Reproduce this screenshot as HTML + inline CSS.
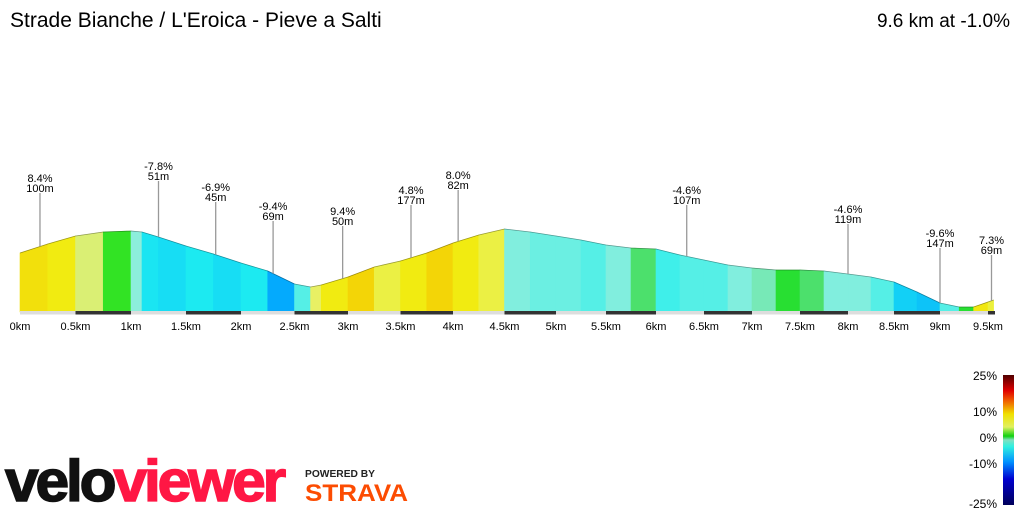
<!DOCTYPE html>
<html><head><meta charset="utf-8"><style>
html,body{margin:0;padding:0;background:#fff;width:1024px;height:512px;overflow:hidden;font-family:"Liberation Sans",sans-serif}
</style></head><body>
<svg id="chart" width="1024" height="512" viewBox="0 0 1024 512" xmlns="http://www.w3.org/2000/svg" font-family="Liberation Sans, DejaVu Sans, sans-serif">
<defs>
<linearGradient id="lg" x1="0" y1="1" x2="0" y2="0">
<stop offset="0" stop-color="#00005a"/><stop offset="0.2" stop-color="#0000d0"/><stop offset="0.33" stop-color="#0090ff"/><stop offset="0.45" stop-color="#30f0e0"/><stop offset="0.5" stop-color="#80e0c0"/><stop offset="0.53" stop-color="#10d010"/><stop offset="0.6" stop-color="#e0f060"/><stop offset="0.7" stop-color="#f0e000"/><stop offset="0.8" stop-color="#f06000"/><stop offset="0.88" stop-color="#e00000"/><stop offset="1" stop-color="#500000"/>
</linearGradient>
</defs>
<text x="10" y="27" font-size="21" fill="#000">Strade Bianche / L'Eroica - Pieve a Salti</text>
<text x="1010" y="27" font-size="19" fill="#000" text-anchor="end">9.6 km at -1.0%</text>
<g id="profile"></g>
<g id="marks"></g>
<g id="axis"></g>
<g>
<rect x="1003" y="375" width="11" height="130" fill="url(#lg)"/>
<text x="997" y="380" font-size="12" text-anchor="end">25%</text>
<text x="997" y="416" font-size="12" text-anchor="end">10%</text>
<text x="997" y="442" font-size="12" text-anchor="end">0%</text>
<text x="997" y="468" font-size="12" text-anchor="end">-10%</text>
<text x="997" y="508" font-size="12" text-anchor="end">-25%</text>
</g>
<g>
<text x="5" y="501" font-size="58" font-weight="bold" textLength="278" lengthAdjust="spacingAndGlyphs" letter-spacing="-3" stroke-width="1.5"><tspan fill="#111" stroke="#111">velo</tspan><tspan fill="#ff1744" stroke="#ff1744">viewer</tspan></text>
</g>
<text x="305" y="477" font-size="10" font-weight="bold" fill="#222" textLength="70" lengthAdjust="spacingAndGlyphs">POWERED BY</text>
<text x="305" y="501" font-size="24" font-weight="bold" fill="#fc4c02" textLength="103" lengthAdjust="spacingAndGlyphs">STRAVA</text>
</svg>
<script>
const kmPoints=[0,0.25,0.5,0.75,1.0,1.1,1.25,1.5,1.75,2.0,2.25,2.5,2.65,2.75,3.0,3.25,3.5,3.75,4.0,4.25,4.5,4.75,5.0,5.25,5.5,5.75,6.0,6.25,6.5,6.75,7.0,7.25,7.5,7.75,8.0,8.25,8.5,8.75,9.0,9.2,9.35,9.5,9.58];
const elevation=[218,236,252,260,262,260,250,232,216,198,182,156,150,154,170,190,202,218,238,254,266,260,252,244,234,228,226,214,204,194,188,184,184,182,176,170,160,140,118,110,110,120,124];
const tickKm=[0,0.5,1,1.5,2,2.5,3,3.5,4,4.5,5,5.5,6,6.5,7,7.5,8,8.5,9,9.5];
const tickLabels=["0km","0.5km","1km","1.5km","2km","2.5km","3km","3.5km","4km","4.5km","5km","5.5km","6km","6.5km","7km","7.5km","8km","8.5km","9km","9.5km"];
const annKm=[0.18,1.25,1.77,2.3,2.95,3.6,4.05,6.32,8.0,9.0,9.55];
const annGrade=["8.4%","-7.8%","-6.9%","-9.4%","9.4%","4.8%","8.0%","-4.6%","-4.6%","-9.6%","7.3%"];
const annLength=["100m","51m","45m","69m","50m","177m","82m","107m","119m","147m","69m"];
const annLevel=[179,167,188,207,212,191,176,191,210,234,241];

const NS="http://www.w3.org/2000/svg";
const xk=[0,1,2,3,4,5,6,7,8,9,9.5,9.6],xp=[20,131,241,348,453,556,656,752,848,940,988,995];
function X(km){for(let i=0;i<xk.length-1;i++){if(km<=xk[i+1]||i==xk.length-2){const t=(km-xk[i])/(xk[i+1]-xk[i]);return xp[i]+t*(xp[i+1]-xp[i]);}}}
const base=312,eMin=100,pxPerM=0.5;
function Y(e){return base-(e-eMin)*pxPerM;}
function lerp(a,b,t){return a+(b-a)*t}
const cStops=[[-25,[0,0,90]],[-15,[0,0,230]],[-11,[0,160,255]],[-6,[30,240,240]],[-2,[140,238,220]],[-0.5,[60,220,80]],[0.5,[20,225,20]],[2,[170,235,100]],[3.5,[230,240,120]],[6,[240,240,20]],[9,[245,200,0]],[15,[230,0,0]],[25,[80,0,0]]];
function gradeColor(g){if(g<=cStops[0][0])return `rgb(${cStops[0][1]})`;for(let i=0;i<cStops.length-1;i++){if(g<=cStops[i+1][0]){const t=(g-cStops[i][0])/(cStops[i+1][0]-cStops[i][0]);const a=cStops[i][1],b=cStops[i+1][1];return `rgb(${Math.round(lerp(a[0],b[0],t))},${Math.round(lerp(a[1],b[1],t))},${Math.round(lerp(a[2],b[2],t))})`;}}return `rgb(${cStops[cStops.length-1][1]})`;}
const prof=document.getElementById('profile');
for(let i=0;i<kmPoints.length-1;i++){
  const g=(elevation[i+1]-elevation[i])/((kmPoints[i+1]-kmPoints[i])*1000)*100;
  const x0=X(kmPoints[i]),x1=X(kmPoints[i+1]);
  const p=document.createElementNS(NS,'polygon');
  
  
  p.setAttribute('points',`${x0},${base} ${x0},${Y(elevation[i])} ${x1},${Y(elevation[i+1])} ${x1},${base}`);
  p.setAttribute('fill',gradeColor(g));
  p.setAttribute('stroke',gradeColor(g));
  p.setAttribute('stroke-width','0.6');
  prof.appendChild(p);
}
const outline=document.createElementNS(NS,'polyline');


outline.setAttribute('points',kmPoints.map((k,i)=>X(k)+','+Y(elevation[i])).join(' '));
outline.setAttribute('fill','none');outline.setAttribute('stroke','rgba(0,0,0,0.35)');outline.setAttribute('stroke-width','0.8');
prof.appendChild(outline);
function elevAt(km){for(let i=0;i<kmPoints.length-1;i++){if(km<=kmPoints[i+1]){const t=(km-kmPoints[i])/(kmPoints[i+1]-kmPoints[i]);return lerp(elevation[i],elevation[i+1],t);}}return elevation[elevation.length-1];}
const axis=document.getElementById('axis');
for(let i=0;i<19;i++){
  const a=i*0.5,b=Math.min(a+0.5,9.6);
  const r=document.createElementNS(NS,'rect');
  
  
  r.setAttribute('x',X(a));r.setAttribute('width',X(b)-X(a));r.setAttribute('y',311);r.setAttribute('height',3.5);
  r.setAttribute('fill',i%2?'#333':'#ddd');axis.appendChild(r);
}
const last=document.createElementNS(NS,'rect');


last.setAttribute('x',X(9.5));last.setAttribute('width',X(9.6)-X(9.5));last.setAttribute('y',311);last.setAttribute('height',3.5);last.setAttribute('fill','#333');axis.appendChild(last);
tickKm.forEach((k,i)=>{const t=document.createElementNS(NS,'text');
  
  
  t.setAttribute('x',X(k));t.setAttribute('y',330);t.setAttribute('font-size','11');t.setAttribute('text-anchor','middle');t.textContent=tickLabels[i];axis.appendChild(t);});
const marks=document.getElementById('marks');
annKm.forEach((k,i)=>{const x=X(k),ly=annLevel[i];
  const l=document.createElementNS(NS,'line');
  
  
  l.setAttribute('x1',x);l.setAttribute('x2',x);l.setAttribute('y1',ly+14);l.setAttribute('y2',Y(elevAt(k)));l.setAttribute('stroke','#999');l.setAttribute('stroke-width','1.3');marks.appendChild(l);
  const t1=document.createElementNS(NS,'text');
  
  
  t1.setAttribute('x',x);t1.setAttribute('y',ly+3);t1.setAttribute('font-size','11');t1.setAttribute('text-anchor','middle');t1.textContent=annGrade[i];marks.appendChild(t1);
  const t2=document.createElementNS(NS,'text');
  
  
  t2.setAttribute('x',x);t2.setAttribute('y',ly+13);t2.setAttribute('font-size','11');t2.setAttribute('text-anchor','middle');t2.textContent=annLength[i];marks.appendChild(t2);
});
</script>
</body></html>
